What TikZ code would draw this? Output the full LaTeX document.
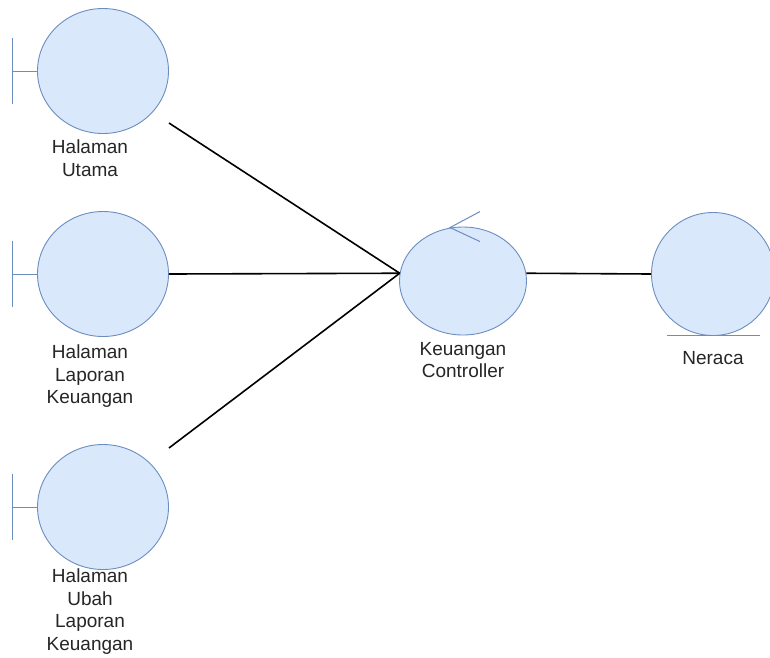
\documentclass[tikz,border=0pt]{standalone}
\usepackage{fontspec}
\setmainfont{Liberation Sans}
\usetikzlibrary{shapes.geometric}

\definecolor{robfill}{HTML}{DAE8FC}
\definecolor{robline}{HTML}{6C8EBF}

\begin{document}
\begin{tikzpicture}[x=1pt, y=-1pt]
    \tikzset{
        robj/.style={
            ellipse, draw=robline, fill=robfill, line width=0.9pt, inner sep=0pt,
        },
        rlabel/.style={
            anchor=north, align=center, inner sep=0pt,
            font=\fontsize{19}{22.5}\selectfont, text=black!85,
        },
        rmark/.style={draw=robline, line width=1pt},
        assoc/.style={draw=black, line width=1.6pt},
    }
    \useasboundingbox[fill=white] (0,0) rectangle (770,657);

    % Boundary objects
    \node[robj, minimum width=131pt, minimum height=125pt] (utama) at (103,71) {};
    \node[robj, minimum width=131pt, minimum height=125pt] (laporan) at (103,274) {};
    \node[robj, minimum width=131pt, minimum height=125pt] (ubah) at (103,507) {};
    \foreach \b in {utama, laporan, ubah} {
        \draw[rmark] (\b.west) -- ++(-25,0) ++(0,-33) -- ++(0,66);
    }

    % Control and entity
    \node[robj, minimum width=127pt, minimum height=108pt] (ctrl) at (463,281) {};
    \draw[rmark] ([shift={(17,-15)}]ctrl.north) -- ([shift={(-13,1)}]ctrl.north)
        -- ([shift={(17,15)}]ctrl.north);
    \node[robj, minimum size=123pt] (neraca) at (713,274) {};
    \draw[rmark] ([shift={(-46,0)}]neraca.south) -- ([shift={(47,0)}]neraca.south);

    % Labels
    \node[rlabel] (lutama) at (90,140) {Halaman\\Utama};
    \node[rlabel] (llaporan) at (90,345) {Halaman\\Laporan\\Keuangan};
    \node[rlabel] (lubah) at (90,569) {Halaman\\Ubah\\Laporan\\Keuangan};
    \node[rlabel] (lctrl) at (463,342) {Keuangan\\Controller};
    \node[rlabel] (lneraca) at (713,351) {Neraca};

    % Links
    \draw[assoc] ([yshift=-52pt]utama.east) -- (ctrl.173);
    \draw[assoc] (laporan.east) -- (ctrl.173);
    \draw[assoc] ([yshift=59pt]ubah.east) -- (ctrl.173);
    \draw[assoc] (ctrl.7) -- (neraca.west);
\end{tikzpicture}
\end{document}
